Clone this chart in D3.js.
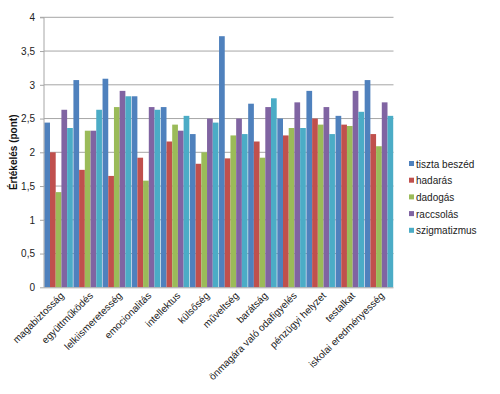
<!DOCTYPE html>
<html><head><meta charset="utf-8">
<script src="https://cdn.jsdelivr.net/npm/d3@7"></script>
<style>body{margin:0;background:#fff;} text{font-family:"Liberation Sans",Arial,sans-serif;}</style>
</head><body><svg id="c" width="500" height="394"></svg>
<script>
const categories = ["magabiztosság","együttműködés","lelkiismeretesség","emocionalitás","intellektus","külsőség","műveltség","barátság","önmagára való odafigyelés","pénzügyi helyzet","testalkat","iskolai eredményesség"];
const seriesNames = ["tiszta beszéd","hadarás","dadogás","raccsolás","szigmatizmus"];
const tisztaBeszed = [2.44,3.07,3.09,2.83,2.67,2.27,3.72,2.72,2.50,2.91,2.54,3.07];
const hadaras      = [2.00,1.74,1.65,1.92,2.16,1.83,1.91,2.16,2.25,2.50,2.41,2.27];
const dadogas      = [1.41,2.32,2.67,1.58,2.41,2.00,2.25,1.92,2.36,2.41,2.39,2.09];
const raccsolas    = [2.63,2.32,2.91,2.67,2.32,2.50,2.50,2.67,2.74,2.67,2.91,2.74];
const szigmatizmus = [2.36,2.63,2.83,2.63,2.54,2.44,2.27,2.80,2.36,2.27,2.60,2.54];
const yTicks = [0,0.5,1,1.5,2,2.5,3,3.5,4];
const colors = ["#4F81BD","#C0504D","#9BBB59","#8064A2","#4BACC6"];
const series = [tisztaBeszed,hadaras,dadogas,raccsolas,szigmatizmus];

const svg = d3.select("#c");
const L=44, R=393.5, T=17.3, B=287.3;
const y = d3.scaleLinear().domain([0,4]).range([B,T]);
const x0 = d3.scaleBand().domain(categories).range([L,R]).paddingInner(0.02).paddingOuter(0.01);
const x1 = d3.scaleBand().domain(seriesNames).range([0,x0.bandwidth()]);

// gridlines
svg.append("g").selectAll("line").data(yTicks.filter(d=>d>0)).join("line")
  .attr("x1",L).attr("x2",R).attr("y1",d=>y(d)).attr("y2",d=>y(d))
  .attr("stroke","#a6a6a6").attr("stroke-width",1);

// bars
const g = svg.append("g");
categories.forEach((c,i)=>{
  seriesNames.forEach((s,j)=>{
    g.append("rect").attr("x",x0(c)+x1(s)).attr("width",x1.bandwidth())
     .attr("y",y(series[j][i])).attr("height",B-y(series[j][i]))
     .attr("fill",colors[j]);
  });
});

// y axis
const yAxis = d3.axisLeft(y).tickValues(yTicks).tickSize(4).tickPadding(5)
  .tickFormat(d=>String(d).replace(".",","));
const ya = svg.append("g").attr("transform",`translate(${L},0)`).call(yAxis);
ya.select(".domain").attr("stroke","#a6a6a6").attr("d",`M-4,${T}H0V${B}`);
ya.selectAll(".tick line").attr("stroke","#a6a6a6");
ya.selectAll("text").attr("font-size",10).attr("fill","#222").style("font-family","Liberation Sans, Arial, sans-serif");

// x axis
const xa = svg.append("g").attr("transform",`translate(0,${B})`).call(d3.axisBottom(x0).tickSize(0).tickPadding(0));
xa.select(".domain").attr("stroke","#a6a6a6").attr("d",`M${L},0.5H${R}`);
xa.selectAll("text").attr("font-size",10).attr("fill","#222").style("font-family","Liberation Sans, Arial, sans-serif")
  .attr("text-anchor","end").attr("dy",0).attr("y",0)
  .attr("transform","translate(6,9) rotate(-45)");

// y title
svg.append("text").attr("transform",`translate(17,${(T+B)/2}) rotate(-90)`)
  .attr("text-anchor","middle").attr("font-size",10).attr("font-weight","bold").attr("fill","#111")
  .text("Értékelés (pont)");

// legend
const lg = svg.append("g").attr("transform","translate(409,164)");
seriesNames.forEach((s,i)=>{
  const row = lg.append("g").attr("transform",`translate(0,${i*16.7})`);
  row.append("rect").attr("x",0).attr("y",-3).attr("width",5).attr("height",5).attr("fill",colors[i]);
  row.append("text").attr("x",7).attr("y",3.5).attr("font-size",10).attr("fill","#222").text(s);
});
</script></body></html>
